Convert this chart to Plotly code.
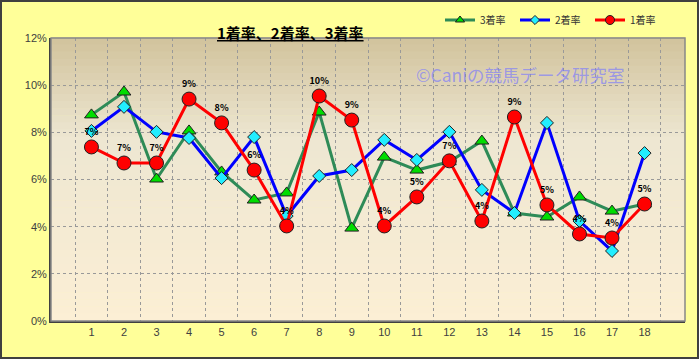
import plotly.graph_objects as go

categories = [str(i) for i in range(1, 19)]
rate1 = [7.38, 6.70, 6.70, 9.41, 8.40, 6.40, 4.03, 9.54, 8.52, 4.03, 5.26, 6.79, 4.24, 8.65, 4.92, 3.69, 3.52, 4.96]
rate2 = [8.06, 9.08, 8.02, 7.76, 6.06, 7.80, 4.45, 6.15, 6.40, 7.68, 6.83, 8.02, 5.56, 4.58, 8.40, 4.24, 2.97, 7.12]
rate3 = [8.74, 9.71, 6.02, 8.06, 6.32, 5.13, 5.43, 8.86, 3.94, 6.95, 6.40, 6.75, 7.63, 4.58, 4.41, 5.26, 4.66, 4.96]
labels1 = [f"{round(v)}%" for v in rate1]

W, H = 699, 359
L, R, T, B = 51, 14, 38, 38
PW, PH = W - L - R, H - T - B

series = [
    ("3着率", rate3, "#2E8B57", "triangle-up", 12, 8, "#00DD00"),
    ("2着率", rate2, "#0000FF", "diamond", 10, 7, "#22EEFF"),
    ("1着率", rate1, "#FF0000", "circle", 14, 9, "#FF0000"),
]

fig = go.Figure()
for name, vals, lc, sym, ms, lms, fc in series:
    kw = {}
    if name == "1着率":
        kw = dict(mode="lines+markers+text", text=labels1, textposition="top center",
                  textfont=dict(family="Noto Sans CJK JP", size=9, color="#000000", weight="bold"))
    else:
        kw = dict(mode="lines+markers")
    fig.add_trace(go.Scatter(
        x=categories, y=vals, name=name, showlegend=False,
        line=dict(color=lc, width=3),
        marker=dict(symbol=sym, size=ms, color=fc, line=dict(color="#202020", width=1)),
        **kw))
# legend-only entries with small markers
for name, vals, lc, sym, ms, lms, fc in series:
    fig.add_trace(go.Scatter(
        x=[None], y=[None], name=name, mode="lines+markers",
        line=dict(color=lc, width=3),
        marker=dict(symbol=sym, size=lms, color=fc, line=dict(color="#202020", width=1)),
    ))

# gradient background strips
shapes = []
N = 40
top = (210, 196, 158)
mid = (238, 231, 210)
bot = (252, 239, 213)
for i in range(N):
    f = i / (N - 1)
    if f < 0.35:
        g = f / 0.35
        c = tuple(int(top[k] + (mid[k] - top[k]) * g) for k in range(3))
    else:
        g = (f - 0.35) / 0.65
        c = tuple(int(mid[k] + (bot[k] - mid[k]) * g) for k in range(3))
    y1 = 1 - i / N
    y0 = 1 - (i + 1) / N
    shapes.append(dict(type="rect", xref="x domain", yref="y domain", x0=0, x1=1, y0=y0, y1=y1 + 0.002,
                       fillcolor=f"rgb{c}", line=dict(width=0), layer="below"))
# plot border
shapes.append(dict(type="rect", xref="x domain", yref="y domain", x0=0, x1=1, y0=0, y1=1,
                   line=dict(color="#888888", width=1.5), layer="above"))
# outer figure border
shapes.append(dict(type="rect", xref="paper", yref="paper",
                   x0=-(L - 1) / PW, x1=1 + (R - 1) / PW, y0=-(B - 1) / PH, y1=1 + (T - 1) / PH,
                   line=dict(color="#404040", width=2), layer="above"))

fig.update_layout(
    width=W, height=H,
    margin=dict(l=L, r=R, t=T, b=B, autoexpand=False),
    paper_bgcolor="#FFFF99",
    plot_bgcolor="rgba(0,0,0,0)",
    shapes=shapes,
    showlegend=True,
    legend=dict(orientation="h", x=(440 - L) / PW, xanchor="left", y=1 + (T - 20) / PH, yanchor="middle",
                font=dict(family="Noto Sans CJK JP", size=10, color="#333333"),
                bgcolor="rgba(0,0,0,0)", entrywidth=30, entrywidthmode="pixels", itemwidth=30,
                tracegroupgap=0),
    font=dict(family="Noto Sans CJK JP", size=11, color="#404040"),
    annotations=[
        dict(text="<u><b>1着率、2着率、3着率</b></u>", xref="paper", yref="paper",
             x=(290 - L) / PW, y=1 + (T - 20) / PH, showarrow=False,
             font=dict(family="Noto Sans CJK JP", size=15, color="#000000")),
        dict(text="©Caniの競馬データ研究室", xref="paper", yref="paper",
             x=(414 - L) / PW, xanchor="left", y=(321 - 60) / PH, showarrow=False,
             font=dict(family="Noto Sans CJK JP", size=17.5, color="rgba(120,120,255,0.65)")),
    ],
)
fig.update_xaxes(type="category", tickson="boundaries", showgrid=True, gridcolor="#999999", griddash="dot",
                 gridwidth=1, showline=True, linecolor="#404040", linewidth=2, ticks="",
                 tickfont=dict(family="Liberation Sans", size=11, color="#404040"))
fig.update_yaxes(range=[0, 12], dtick=2, ticksuffix="%", showgrid=True, gridcolor="#999999", griddash="dot",
                 gridwidth=1, showline=True, linecolor="#404040", linewidth=2, zeroline=False,
                 tickfont=dict(family="Liberation Sans", size=11, color="#404040"))

fig.write_html("out.html")
